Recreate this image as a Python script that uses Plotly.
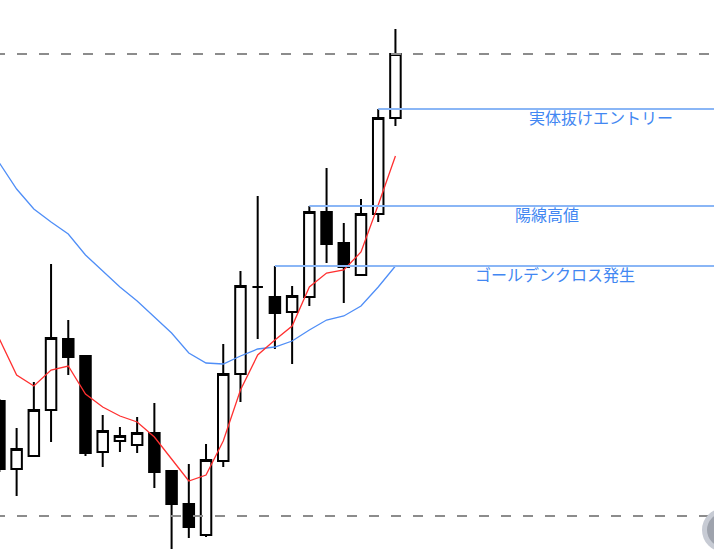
import plotly.graph_objects as go

# ---- data ----
idx = list(range(24))
opens  = [109.51,108.83,108.96,109.42,110.13,109.96,109.00,109.11,109.07,109.19,108.81,108.48,
          108.17,108.91,109.78,110.65,110.55,110.40,110.55,111.40,111.09,110.77,111.38,112.34]
highs  = [109.53,109.24,109.70,110.88,110.32,109.97,109.37,109.25,109.35,109.49,108.81,108.88,
          109.08,110.08,110.81,111.56,110.86,110.66,111.46,111.84,111.29,111.53,112.43,113.23]
lows   = [108.80,108.56,108.96,109.10,109.77,108.96,108.85,109.00,108.99,108.64,108.03,108.14,
          108.15,108.85,109.50,110.13,110.03,109.88,110.46,110.89,110.49,110.77,111.30,112.26]
closes = [108.83,109.03,109.42,110.14,109.95,108.99,109.21,109.16,109.19,108.80,108.48,108.25,
          108.92,109.78,110.66,110.65,110.39,110.56,111.40,111.08,110.85,111.38,112.34,112.98]

ma_short = [110.13,109.77,109.66,109.82,109.86,109.58,109.45,109.36,109.30,109.15,108.93,108.71,
            108.77,109.11,109.62,109.97,110.12,110.26,110.65,110.79,110.82,111.00,111.47,111.96]
ma_long  = [111.89,111.63,111.43,111.30,111.18,110.97,110.81,110.65,110.51,110.35,110.19,109.99,
            109.89,109.88,109.96,110.03,110.05,110.11,110.22,110.32,110.36,110.46,110.65,110.86]

# horizontal marker levels: (label, price level, starting candle index, label x position)
level_labels = ["実体抜けエントリー", "陽線高値", "ゴールデンクロス発生"]
level_values = [112.43, 111.46, 110.86]
level_starts = [22, 18, 16]
label_x      = [34.96, 31.79, 32.29]

dashed_levels = [112.98, 108.36]

X_RANGE = [0.035, 41.5]
Y_RANGE = [108.0, 113.52]

fig = go.Figure()

fig.add_trace(go.Candlestick(
    x=idx, open=opens, high=highs, low=lows, close=closes,
    increasing=dict(fillcolor="#ffffff", line=dict(color="#000000", width=2)),
    decreasing=dict(fillcolor="#000000", line=dict(color="#000000", width=2)),
    whiskerwidth=0, hoverinfo="skip", showlegend=False,
))

fig.add_trace(go.Scatter(x=idx, y=ma_long, mode="lines",
                         line=dict(color="#4f8ef7", width=1.3), hoverinfo="skip"))
fig.add_trace(go.Scatter(x=idx, y=ma_short, mode="lines",
                         line=dict(color="#ff3030", width=1.3), hoverinfo="skip"))

for lab, val, st, lx in zip(level_labels, level_values, level_starts, label_x):
    fig.add_trace(go.Scatter(x=[st, X_RANGE[1] + 2], y=[val, val], mode="lines",
                             line=dict(color="#8ab6f6", width=2), hoverinfo="skip"))
    fig.add_annotation(x=lx, y=val, xref="x", yref="y", text=lab, showarrow=False,
                       xanchor="center", yanchor="top", yshift=6,
                       font=dict(family="Noto Sans CJK JP", size=16, color="#4287f2"))

for lv in dashed_levels:
    fig.add_shape(type="line", xref="paper", yref="y", x0=-0.007, x1=1.02, y0=lv, y1=lv,
                  line=dict(color="#8c8c8c", width=2, dash="10px,12px"))

# partially visible round button at bottom-right
fig.add_shape(type="circle", xref="paper", yref="paper", x0=0.9832, x1=1.0448, y0=0.0, y1=0.0797,
              fillcolor="#c7cbd4", line=dict(width=0))
fig.add_shape(type="circle", xref="paper", yref="paper", x0=0.9902, x1=1.0378, y0=0.0091, y1=0.0707,
              fillcolor="#9ea3ad", line=dict(width=0))

fig.update_layout(
    width=714, height=552, margin=dict(l=0, r=0, t=0, b=0),
    paper_bgcolor="#ffffff", plot_bgcolor="#ffffff", showlegend=False,
    boxgap=0.39, boxgroupgap=0,
    xaxis=dict(visible=False, range=X_RANGE, rangeslider=dict(visible=False), fixedrange=True),
    yaxis=dict(visible=False, range=Y_RANGE, fixedrange=True),
)

fig.write_html("out.html", config={"displayModeBar": False},
               post_script="document.body.style.margin='0';document.body.style.overflow='hidden';")
